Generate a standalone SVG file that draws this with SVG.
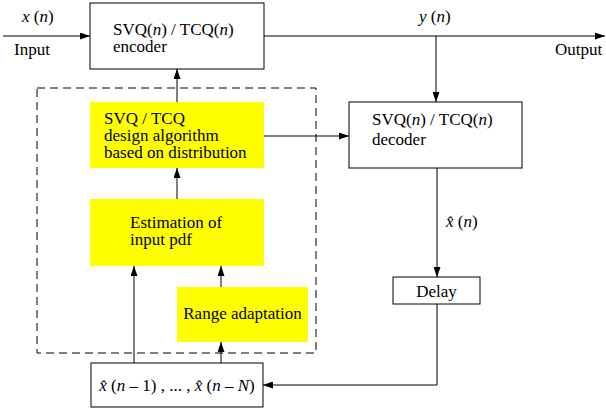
<svg xmlns="http://www.w3.org/2000/svg" width="606" height="408" viewBox="0 0 606 408">
<style>
text{font-family:'Liberation Serif','Times New Roman',serif;font-size:17px;fill:#000}
.i{font-style:italic}
.box{fill:#fff;stroke:#000;stroke-width:1}
.y{fill:#ffff00;stroke:none}
.ln{fill:none;stroke:#000;stroke-width:1}
.dash{fill:none;stroke:#000;stroke-width:1;stroke-dasharray:8,5}
</style>
<defs>
<marker id="ah" markerWidth="10" markerHeight="7" refX="10" refY="3.5" orient="auto" markerUnits="userSpaceOnUse">
<path d="M0,0 L10,3.5 L0,7 Z" fill="#000"/>
</marker>
</defs>
<rect class="dash" x="37" y="88" width="279" height="265"/>
<g id="connectors">
<line class="ln" x1="3" y1="36" x2="90" y2="36" marker-end="url(#ah)"/>
<line class="ln" x1="264" y1="36" x2="605" y2="36" marker-end="url(#ah)"/>
<line class="ln" x1="436" y1="36" x2="436" y2="102" marker-end="url(#ah)"/>
<line class="ln" x1="177" y1="102" x2="177" y2="69" marker-end="url(#ah)"/>
<line class="ln" x1="264" y1="136" x2="349" y2="136" marker-end="url(#ah)"/>
<line class="ln" x1="177" y1="199" x2="177" y2="168" marker-end="url(#ah)"/>
<line class="ln" x1="134" y1="363" x2="134" y2="266" marker-end="url(#ah)"/>
<line class="ln" x1="221" y1="363" x2="221" y2="342" marker-end="url(#ah)"/>
<line class="ln" x1="221" y1="287" x2="221" y2="266" marker-end="url(#ah)"/>
<line class="ln" x1="437" y1="168" x2="437" y2="277" marker-end="url(#ah)"/>
<polyline class="ln" points="437,304 437,385 263,385" marker-end="url(#ah)"/>
</g>
<g id="labels">
<text x="22" y="22"><tspan class="i">x</tspan> (<tspan class="i">n</tspan>)</text>
<text x="14" y="55">Input</text>
<text x="419" y="22"><tspan class="i">y</tspan> (<tspan class="i">n</tspan>)</text>
<text x="555" y="55">Output</text>
<text x="446" y="227"><tspan class="i">x̂</tspan> (<tspan class="i">n</tspan>)</text>
</g>
<g id="encoder">
<rect class="box" x="90" y="3" width="174" height="66"/>
<text x="113" y="35">SVQ(<tspan class="i">n</tspan>) / TCQ(<tspan class="i">n</tspan>)</text>
<text x="113" y="52">encoder</text>
</g>
<g id="design">
<rect class="y" x="90" y="102" width="174" height="66"/>
<text x="104" y="124">SVQ / TCQ</text>
<text x="104" y="141">design algorithm</text>
<text x="104" y="158">based on distribution</text>
</g>
<g id="estimation">
<rect class="y" x="90" y="199" width="174" height="67"/>
<text x="130" y="228">Estimation of</text>
<text x="130" y="245">input pdf</text>
</g>
<g id="range">
<rect class="y" x="177" y="287" width="131" height="55"/>
<text x="242.5" y="319" text-anchor="middle">Range adaptation</text>
</g>
<g id="decoder">
<rect class="box" x="349" y="102" width="173" height="66"/>
<text x="372" y="125">SVQ(<tspan class="i">n</tspan>) / TCQ(<tspan class="i">n</tspan>)</text>
<text x="372" y="145">decoder</text>
</g>
<g id="delay">
<rect class="box" x="393" y="277" width="87" height="27"/>
<text x="436.5" y="297" text-anchor="middle">Delay</text>
</g>
<g id="history">
<rect class="box" x="91" y="363" width="172" height="44"/>
<text x="177" y="391" text-anchor="middle"><tspan class="i">x̂</tspan> (<tspan class="i">n</tspan> – 1) , ... , <tspan class="i">x̂</tspan> (<tspan class="i">n</tspan> – <tspan class="i">N</tspan>)</text>
</g>
</svg>
